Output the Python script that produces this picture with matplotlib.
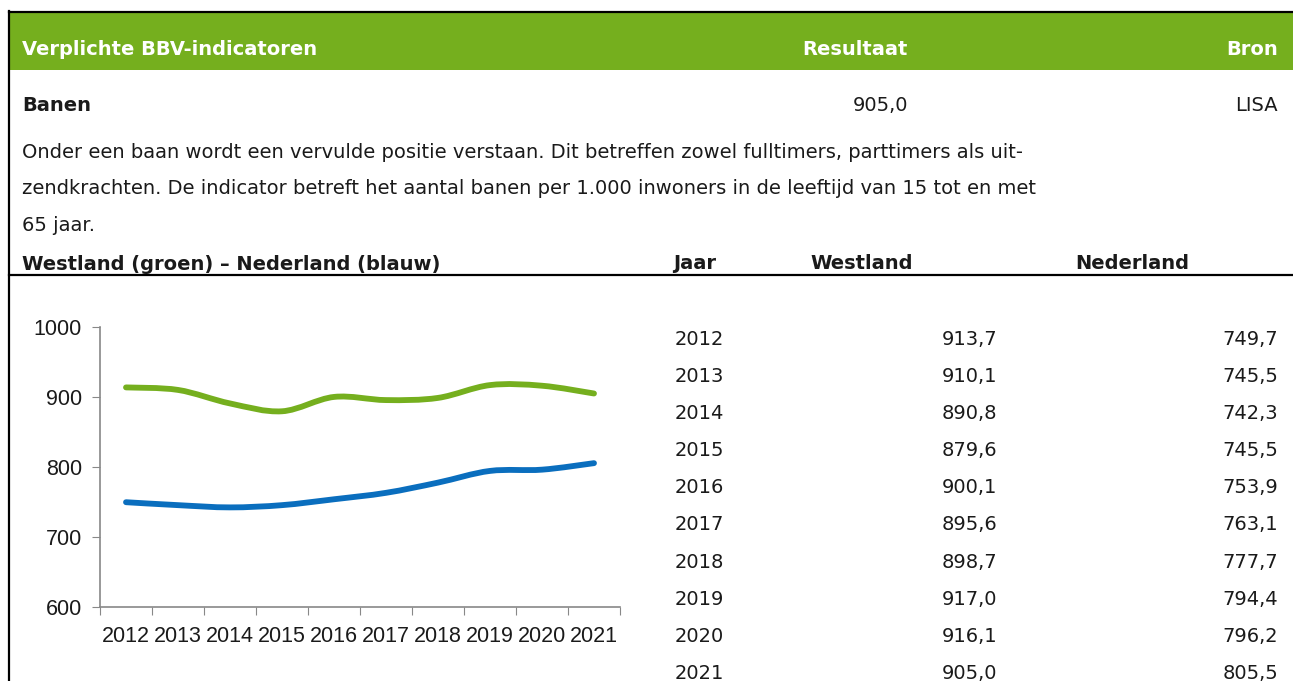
import numpy as np
import matplotlib
matplotlib.use("Agg")
import matplotlib.pyplot as plt
from matplotlib.path import Path
from matplotlib.patches import PathPatch, Rectangle

# --- data ---
jaren = [2012, 2013, 2014, 2015, 2016, 2017, 2018, 2019, 2020, 2021]
westland = [913.7, 910.1, 890.8, 879.6, 900.1, 895.6, 898.7, 917.0, 916.1, 905.0]
nederland = [749.7, 745.5, 742.3, 745.5, 753.9, 763.1, 777.7, 794.4, 796.2, 805.5]
y_ticks = [600, 700, 800, 900, 1000]
resultaat = "905,0"
bron = "LISA"
omschrijving = [
    "Onder een baan wordt een vervulde positie verstaan. Dit betreffen zowel fulltimers, parttimers als uit-",
    "zendkrachten. De indicator betreft het aantal banen per 1.000 inwoners in de leeftijd van 15 tot en met",
    "65 jaar.",
]

GREEN = "#75AF1E"
BLUE = "#0A6EBE"
TXT = "#1a1a1a"
W, H = 1293, 681
FONT = "DejaVu Sans"


def nl(v):
    return f"{v:.1f}".replace(".", ",")


def smooth_path(xs, ys):
    # Excel-style smoothed line: Catmull-Rom segments as cubic Bezier
    p = np.column_stack([xs, ys]).astype(float)
    ext = np.vstack([p[0], p, p[-1]])
    verts, codes = [p[0]], [Path.MOVETO]
    for i in range(1, len(ext) - 2):
        c1 = ext[i] + (ext[i + 1] - ext[i - 1]) / 6
        c2 = ext[i + 1] - (ext[i + 2] - ext[i]) / 6
        verts += [c1, c2, ext[i + 1]]
        codes += [Path.CURVE4] * 3
    return Path(verts, codes)


fig = plt.figure(figsize=(W / 100, H / 100), dpi=100)
bg = fig.add_axes([0, 0, 1, 1])
bg.set_xlim(0, W); bg.set_ylim(H, 0); bg.axis("off")

# frame + header band
bg.add_patch(Rectangle((9, 12), W - 9, 58, color=GREEN, lw=0))
bg.plot([9, W], [11.5, 11.5], color="black", lw=1.6)
bg.plot([9, 9], [11, H], color="black", lw=1.6)
bg.plot([9, W], [275, 275], color="black", lw=1.6)

hdr = dict(fontsize=14, fontweight="bold", family=FONT, va="baseline")
bg.text(22, 55, "Verplichte BBV-indicatoren", color="white", ha="left", **hdr)
bg.text(908, 55, "Resultaat", color="white", ha="right", **hdr)
bg.text(1278, 55, "Bron", color="white", ha="right", **hdr)

body = dict(fontsize=14, family=FONT, va="baseline", color=TXT)
bg.text(22, 111, "Banen", ha="left", fontweight="bold", **body)
bg.text(908, 111, resultaat, ha="right", **body)
bg.text(1278, 111, bron, ha="right", **body)
for i, line in enumerate(omschrijving):
    bg.text(22, 158 + i * 36.5, line, ha="left", **body)

bg.text(22, 270, "Westland (groen) – Nederland (blauw)", ha="left", fontweight="bold", **body)
bg.text(673, 269, "Jaar", ha="left", fontweight="bold", **body)
bg.text(810, 269, "Westland", ha="left", fontweight="bold", **body)
bg.text(1075, 269, "Nederland", ha="left", fontweight="bold", **body)

# table
for i, (j, w, n) in enumerate(zip(jaren, westland, nederland)):
    yb = 345 + i * 37.1
    bg.text(675, yb, str(j), ha="left", **body)
    bg.text(997, yb, nl(w), ha="right", **body)
    bg.text(1278, yb, nl(n), ha="right", **body)

# chart
ax = fig.add_axes([100 / W, (H - 607) / H, 520 / W, 280 / H])
x = np.arange(len(jaren))
for vals, col in [(westland, GREEN), (nederland, BLUE)]:
    ax.add_patch(PathPatch(smooth_path(x, vals), fill=False, edgecolor=col, lw=4.2,
                           capstyle="round", joinstyle="round"))
ax.set_xlim(-0.5, len(jaren) - 0.5)
ax.set_ylim(600, 1000)
ax.set_yticks(y_ticks)
ax.set_xticks(np.arange(-0.5, len(jaren)), labels=[])
ax.set_xticks(x, labels=[str(j) for j in jaren], minor=True)
ax.tick_params(axis="x", which="minor", length=0, pad=14, labelsize=15.5, labelcolor=TXT)
ax.tick_params(axis="x", which="major", length=6, color="#888888", direction="out")
ax.tick_params(axis="y", length=6, color="#888888", labelsize=15.5, labelcolor=TXT, pad=7)
for lab in ax.get_xticklabels(minor=True) + ax.get_yticklabels():
    lab.set_family("Liberation Sans")
for s in ["top", "right"]:
    ax.spines[s].set_visible(False)
for s in ["left", "bottom"]:
    ax.spines[s].set_color("#888888")
    ax.spines[s].set_linewidth(1.2)
ax.patch.set_alpha(0)

fig.savefig("out.png", dpi=100)
